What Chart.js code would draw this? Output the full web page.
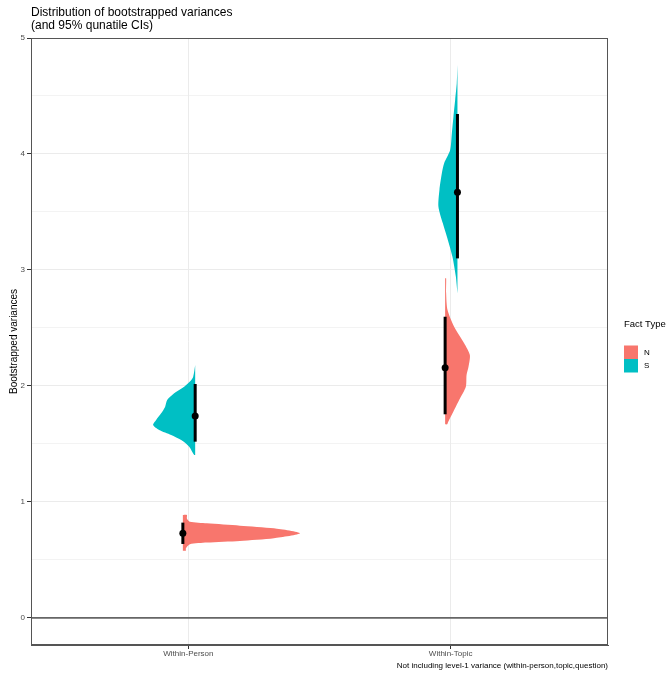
<!DOCTYPE html>
<html>
<head>
<meta charset="utf-8">
<script src="https://cdn.jsdelivr.net/npm/chart.js@4"></script>
<style>
  html, body { margin: 0; padding: 0; background: #fff; }
  #wrap { width: 670px; height: 679px; }
</style>
</head>
<body>
<div id="wrap"><canvas id="chart" width="670" height="679"></canvas></div>
<script>
// DATA
const categories = ["Within-Person", "Within-Topic"];
const factTypes = ["N", "S"];
const colors = { N: "#F8766D", S: "#00BFC4" };

// violin outlines: variance values (top to bottom) and density widths
const personN_y = [0.888, 0.86, 0.845, 0.830, 0.816, 0.796, 0.773, 0.730, 0.687, 0.664, 0.650, 0.635, 0.60, 0.580];
const personN_d = [4, 4, 5, 7, 24, 57, 91, 117, 91, 57, 24, 7, 3, 3];
const personS_y = [2.181, 2.08, 2.04, 1.994, 1.937, 1.879, 1.822, 1.764, 1.707, 1.664, 1.621, 1.578, 1.534, 1.477, 1.405];
const personS_d = [0, 2, 5, 11, 21, 28, 30, 34, 39, 42, 36, 24, 14, 6, 1];
const topicN_y = [2.928, 2.80, 2.655, 2.511, 2.368, 2.267, 2.167, 2.095, 1.994, 1.879, 1.764, 1.69, 1.67];
const topicN_d = [1, 1, 2.4, 9, 19, 24.7, 23.4, 21.4, 20.7, 14, 7.4, 3, 2];
const topicS_y = [4.767, 4.609, 4.466, 4.322, 4.178, 4.034, 3.92, 3.833, 3.69, 3.546, 3.402, 3.259, 3.115, 2.943, 2.80];
const topicS_d = [0, 0.7, 2.3, 4, 5.6, 7.3, 13.3, 15.6, 18, 19, 14.6, 9.6, 5, 1.6, 0];

// medians and 95% quantile CIs, per category
const medN = [0.73, 2.158];
const loN = [0.638, 1.756];
const hiN = [0.822, 2.597];
const medS = [1.741, 3.67];
const loS = [1.52, 3.10];
const hiS = [2.017, 4.345];

const yTicks = [0, 0.5, 1, 1.5, 2, 2.5, 3, 3.5, 4, 4.5, 5];

// LAYOUT HELPERS
const dodge = { N: -0.021, S: 0.026 };
const widthScale = 1 / 262;

function violin(cat, type, ys, ds) {
  const cx = cat + 1 + dodge[type];
  const side = type === "N" ? 1 : -1;
  const pts = [{ x: cx, y: ys[0] }];
  ys.forEach((y, i) => pts.push({ x: cx + side * ds[i] * widthScale, y }));
  pts.push({ x: cx, y: ys[ys.length - 1] });
  return {
    data: pts,
    borderWidth: 0,
    borderColor: colors[type],
    backgroundColor: colors[type],
    fill: "shape",
    pointRadius: 0,
    tension: 0.25,
    order: 3
  };
}

function ciLine(cat, type, lo, hi) {
  const cx = cat + 1 + dodge[type];
  return {
    data: [{ x: cx, y: lo }, { x: cx, y: hi }],
    borderColor: "#000",
    borderWidth: 3,
    pointRadius: 0,
    fill: false,
    order: 2
  };
}

const datasets = [];
// median points
datasets.push({
  data: [0, 1].flatMap(i => [
    { x: i + 1 + dodge.N, y: medN[i] },
    { x: i + 1 + dodge.S, y: medS[i] }
  ]),
  showLine: false,
  pointRadius: 3.5,
  pointBackgroundColor: "#000",
  pointBorderWidth: 0,
  order: 1
});
[0, 1].forEach(i => {
  datasets.push(ciLine(i, "N", loN[i], hiN[i]));
  datasets.push(ciLine(i, "S", loS[i], hiS[i]));
});
datasets.push(violin(0, "N", personN_y, personN_d));
datasets.push(violin(0, "S", personS_y, personS_d));
datasets.push(violin(1, "N", topicN_y, topicN_d));
datasets.push(violin(1, "S", topicS_y, topicS_d));
// zero reference line
datasets.push({
  data: [{ x: 0.4, y: 0 }, { x: 2.6, y: 0 }],
  borderColor: "#666",
  borderWidth: 1.8,
  pointRadius: 0,
  fill: false,
  order: 4
});

// PLUGIN: panel border, title, legend
const decor = {
  id: "decor",
  afterDraw(chart) {
    const { ctx, chartArea: a } = chart;
    ctx.save();
    ctx.strokeStyle = "#555";
    ctx.lineWidth = 1;
    ctx.strokeRect(a.left + 0.5, a.top + 0.5, a.right - a.left - 1, a.bottom - a.top - 1);

    ctx.fillStyle = "#000";
    ctx.textBaseline = "middle";
    ctx.textAlign = "left";
    ctx.font = '12px "Liberation Sans", Arial, sans-serif';
    ctx.fillText("Distribution of bootstrapped variances", 31, 13);
    ctx.fillText("(and 95% qunatile CIs)", 31, 26);

    ctx.font = '9.5px "Liberation Sans", Arial, sans-serif';
    ctx.fillText("Fact Type", 624, 324);
    ctx.font = '8px "Liberation Sans", Arial, sans-serif';
    factTypes.forEach((t, i) => {
      const y = 345.5 + i * 13.5;
      ctx.fillStyle = colors[t];
      ctx.fillRect(624, y, 14, 13.5);
      ctx.fillStyle = "#000";
      ctx.fillText(t, 644, y + 7);
    });
    ctx.restore();
  }
};

new Chart(document.getElementById("chart"), {
  type: "line",
  data: { datasets },
  options: {
    responsive: false,
    animation: false,
    events: [],
    layout: { padding: { left: 0, top: 38, right: 62, bottom: 0 } },
    plugins: { legend: { display: false }, tooltip: { enabled: false }, title: { display: false } },
    scales: {
      x: {
        type: "linear",
        min: 0.4,
        max: 2.6,
        afterBuildTicks: s => { s.ticks = [{ value: 1 }, { value: 2 }]; },
        afterFit: s => { s.height = 34; },
        ticks: {
          autoSkip: false,
          maxRotation: 0,
          padding: 0,
          color: "#4D4D4D",
          font: { family: '"Liberation Sans", Arial, sans-serif', size: 8 },
          callback: v => categories[v - 1] || ""
        },
        grid: { color: "#EBEBEB", lineWidth: 1, tickLength: 4, tickColor: "#333" },
        border: { display: true, color: "#555", width: 1 },
        title: {
          display: true,
          align: "end",
          text: "Not including level-1 variance (within-person,topic,question)",
          color: "#000",
          font: { family: '"Liberation Sans", Arial, sans-serif', size: 8 },
          padding: { top: 0, bottom: 8 }
        }
      },
      y: {
        type: "linear",
        min: -0.233,
        max: 5,
        afterBuildTicks: s => { s.ticks = yTicks.map(v => ({ value: v })); },
        afterFit: s => { s.width = 31; },
        ticks: {
          autoSkip: false,
          padding: 2,
          color: "#4D4D4D",
          font: { family: '"Liberation Sans", Arial, sans-serif', size: 8 },
          callback: v => Number.isInteger(v) ? String(v) : ""
        },
        grid: {
          color: "#EBEBEB",
          lineWidth: c => c.tick && Number.isInteger(c.tick.value) ? 1 : 0.6,
          tickLength: 4,
          tickColor: c => c.tick && Number.isInteger(c.tick.value) ? "#333" : "rgba(0,0,0,0)"
        },
        border: { display: true, color: "#555", width: 1 },
        title: {
          display: true,
          text: "Bootstrapped variances",
          color: "#000",
          font: { family: '"Liberation Sans", Arial, sans-serif', size: 10 },
          padding: { top: 8, bottom: 0 }
        }
      }
    }
  },
  plugins: [decor]
});
</script>
</body>
</html>
